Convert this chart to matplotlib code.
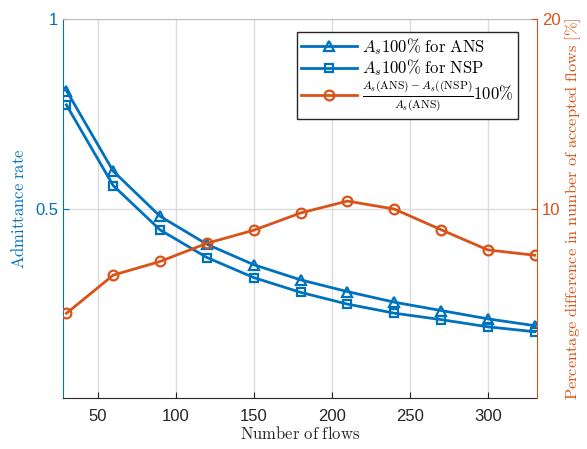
import matplotlib.pyplot as plt
import numpy as np

plt.rcParams["mathtext.fontset"] = "cm"
plt.rcParams["font.family"] = ["Liberation Sans", "DejaVu Sans"]

BLUE = "#0072BD"
ORANGE = "#D95319"

num_flows = [30, 60, 90, 120, 150, 180, 210, 240, 270, 300, 330]
admit_ans = [0.812, 0.599, 0.480, 0.406, 0.352, 0.312, 0.281, 0.253, 0.231, 0.209, 0.191]
admit_nsp = [0.774, 0.561, 0.444, 0.371, 0.318, 0.279, 0.248, 0.224, 0.207, 0.188, 0.175]
pct_diff = [4.47, 6.49, 7.21, 8.17, 8.86, 9.77, 10.4, 9.98, 8.89, 7.82, 7.54]

x_ticks = [50, 100, 150, 200, 250, 300]
left_ticks = [0.5, 1]
right_ticks = [10, 20]

fig = plt.figure(figsize=(5.87, 4.49), dpi=100)
ax = fig.add_axes([0.1078, 0.1136, 0.8070, 0.8434])
ax2 = ax.twinx()

line_style = dict(linewidth=2, markersize=7, markeredgewidth=1.6, markerfacecolor="none")
(l1,) = ax.plot(num_flows, admit_ans, marker="^", color=BLUE,
                label=r"$A_s100\%\ \mathrm{for\ ANS}$", **line_style)
(l2,) = ax.plot(num_flows, admit_nsp, marker="s", color=BLUE, markersize=6,
                linewidth=2, markeredgewidth=1.6, markerfacecolor="none",
                label=r"$A_s100\%\ \mathrm{for\ NSP}$")
(l3,) = ax2.plot(num_flows, pct_diff, marker="o", color=ORANGE,
                 label=r"$\frac{A_s(\mathrm{ANS})-A_s((\mathrm{NSP})}{A_s(\mathrm{ANS})}100\%$",
                 **line_style)

ax.set_xlim(28, 331.5)
ax.set_ylim(0, 1)
ax2.set_ylim(0, 20)
ax.set_xticks(x_ticks)
ax.set_yticks(left_ticks, labels=["0.5", "1"])
ax2.set_yticks(right_ticks, labels=["10", "20"])

ax.grid(True, color="#dcdcdc", linewidth=1)
ax.set_axisbelow(True)

ax.tick_params(axis="x", direction="in", labelsize=12, colors="#262626", length=4, pad=8)
ax.tick_params(axis="y", direction="in", labelsize=12, colors=BLUE, length=4)
ax2.tick_params(axis="y", direction="in", labelsize=12, colors=ORANGE, length=4)

ax.spines["left"].set_color(BLUE)
ax2.spines["left"].set_visible(False)
ax.spines["right"].set_visible(False)
ax2.spines["right"].set_color(ORANGE)
ax.spines["bottom"].set_color("#262626")
ax2.spines["bottom"].set_visible(False)
ax.spines["top"].set_color("#bdbdbd")
ax2.spines["top"].set_visible(False)

ax.set_xlabel(r"$\mathrm{Number\ of\ flows}$", fontsize=12, color="#262626", labelpad=1)
ax.set_ylabel(r"$\mathrm{Admittance\ rate}$", fontsize=12, color=BLUE, labelpad=6)
ax2.set_ylabel(r"$\mathrm{Percentage\ difference\ in\ number\ of\ accepted\ flows\ [\%]}$",
               fontsize=11.8, color=ORANGE, labelpad=2)

leg = ax2.legend(handles=[l1, l2, l3], loc="upper right", bbox_to_anchor=(0.96, 0.967),
                 borderaxespad=0, fontsize=12, fancybox=False, framealpha=1,
                 edgecolor="#262626", handlelength=3.4, handletextpad=0.3,
                 labelspacing=0.05, borderpad=0.25)
leg.get_frame().set_linewidth(1)

fig.savefig("out.png", dpi=100)
